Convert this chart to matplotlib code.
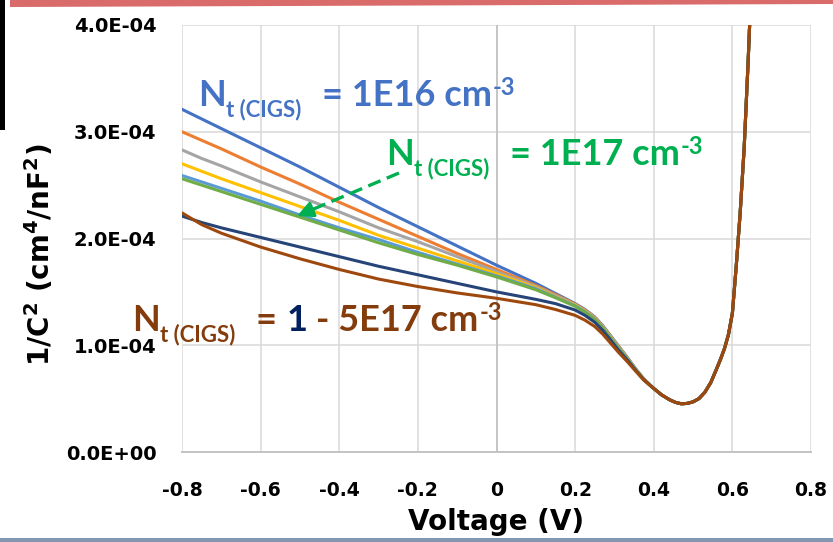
import matplotlib
matplotlib.use("Agg")
import matplotlib.pyplot as plt
import matplotlib.transforms as mtransforms
from matplotlib.patches import Polygon, Rectangle

plt.rcParams['font.family'] = ['DejaVu Sans']
LABEL_FONT = ['Lato', 'DejaVu Sans']

# ---- data: 1/C^2 (units of 1E-4 cm^4/nF^2) versus voltage (V) ----
# low-bias branch, one array per trap density
v_left = [-0.8, -0.75, -0.7, -0.6, -0.5, -0.4, -0.3, -0.2, -0.1, 0.0,
          0.1, 0.15, 0.2, 0.225, 0.25, 0.27, 0.29, 0.31, 0.333, 0.355, 0.375]
c_1e16 = [3.21, 3.12, 3.03, 2.85, 2.67, 2.48, 2.29, 2.11, 1.93, 1.75,
          1.58, 1.485, 1.39, 1.335, 1.265, 1.185, 1.09, 0.995, 0.885, 0.775, 0.685]
c_2e16 = [3.00, 2.92, 2.84, 2.67, 2.51, 2.34, 2.18, 2.02, 1.86, 1.71,
          1.56, 1.475, 1.385, 1.33, 1.26, 1.18, 1.085, 0.99, 0.88, 0.772, 0.683]
c_3e16 = [2.83, 2.75, 2.68, 2.53, 2.39, 2.25, 2.10, 1.97, 1.83, 1.69,
          1.55, 1.465, 1.38, 1.325, 1.255, 1.175, 1.08, 0.985, 0.877, 0.77, 0.681]
c_5e16 = [2.70, 2.63, 2.56, 2.43, 2.30, 2.17, 2.03, 1.91, 1.79, 1.67,
          1.54, 1.455, 1.375, 1.32, 1.25, 1.17, 1.075, 0.98, 0.874, 0.768, 0.679]
c_7e16 = [2.59, 2.53, 2.47, 2.35, 2.22, 2.10, 1.99, 1.87, 1.76, 1.65,
          1.53, 1.45, 1.37, 1.315, 1.245, 1.165, 1.07, 0.975, 0.871, 0.766, 0.678]
c_1e17 = [2.56, 2.50, 2.44, 2.32, 2.20, 2.08, 1.96, 1.85, 1.75, 1.64,
          1.52, 1.445, 1.365, 1.31, 1.24, 1.16, 1.065, 0.97, 0.868, 0.764, 0.677]
c_3e17 = [2.21, 2.15, 2.10, 2.01, 1.92, 1.83, 1.74, 1.66, 1.58, 1.50,
          1.43, 1.39, 1.33, 1.28, 1.215, 1.14, 1.05, 0.955, 0.86, 0.76, 0.675]
c_5e17 = [2.24, 2.13, 2.05, 1.92, 1.81, 1.71, 1.62, 1.55, 1.49, 1.44,
          1.38, 1.335, 1.28, 1.235, 1.175, 1.105, 1.02, 0.935, 0.845, 0.753, 0.672]

# forward-bias branch, shared by all trap densities
v_right = [0.40, 0.42, 0.44, 0.455, 0.47, 0.485, 0.50, 0.515, 0.53,
           0.545, 0.56, 0.57, 0.58, 0.59, 0.60, 0.61, 0.62, 0.63, 0.64,
           0.645, 0.65]
c_right = [0.595, 0.535, 0.49, 0.465, 0.452, 0.455, 0.47, 0.50, 0.56,
           0.65, 0.78, 0.87, 0.97, 1.10, 1.30, 1.75, 2.25, 2.85, 3.65,
           4.10, 4.60]

series_names = ["1E16", "2E16", "3E16", "5E16", "7E16", "1E17", "3E17", "5E17"]
series_left = [c_1e16, c_2e16, c_3e16, c_5e16, c_7e16, c_1e17, c_3e17, c_5e17]
series_colors = ["#4472C4", "#ED7D31", "#A5A5A5", "#FFC000",
                 "#5B9BD5", "#70AD47", "#264478", "#9E480E"]

x_ticks = [-0.8, -0.6, -0.4, -0.2, 0, 0.2, 0.4, 0.6, 0.8]
x_tick_labels = ["-0.8", "-0.6", "-0.4", "-0.2", "0", "0.2", "0.4", "0.6", "0.8"]
y_ticks = [0.0, 1.0e-4, 2.0e-4, 3.0e-4, 4.0e-4]
y_tick_labels = ["0.0E+00", "1.0E-04", "2.0E-04", "3.0E-04", "4.0E-04"]

W, H = 833, 542
fig = plt.figure(figsize=(W / 100, H / 100), dpi=100)
fig.patch.set_facecolor("white")
renderer = fig.canvas.get_renderer()

# pixel transform measured from the top-left corner of the figure
pix = mtransforms.Affine2D().scale(1 / W, -1 / H).translate(0, 1) + fig.transFigure

ax = fig.add_axes([182 / W, (H - 452) / H, (811 - 182) / W, (452 - 25) / H])
ax.set_xlim(-0.8, 0.8)
ax.set_ylim(0, 4.0e-4)

for name, vals, col in zip(series_names, series_left, series_colors):
    v = v_left + v_right
    c = [val * 1e-4 for val in vals + c_right]
    ax.plot(v, c, color=col, lw=2.2, solid_capstyle="round",
            solid_joinstyle="round", label=name, zorder=3)

ax.set_xticks(x_ticks)
ax.set_xticklabels(x_tick_labels)
ax.set_yticks(y_ticks)
ax.set_yticklabels(y_tick_labels)
ax.tick_params(axis="both", length=0, colors="black")
ax.tick_params(axis="y", pad=18.5, labelsize=14)
ax.tick_params(axis="x", pad=21, labelsize=13.5)
for lbl in ax.get_xticklabels() + ax.get_yticklabels():
    lbl.set_fontweight("bold")

ax.grid(True, color="#D9D9D9", lw=1.1, zorder=0)
ax.set_axisbelow(True)
for sp in ax.spines.values():
    sp.set_visible(False)
ax.axvline(0, color="#BFBFBF", lw=1.1, zorder=1)
ax.axhline(0, color="#BFBFBF", lw=1.3, zorder=1, clip_on=False)

ax.set_xlabel("Voltage (V)", fontsize=20, fontweight="bold", va="center")
ax.xaxis.set_label_coords(0.5, (452 - 522) / 427)
ax.set_ylabel(r"1/C$^{\mathregular{2}}$ (cm$^{\mathregular{4}}$/nF$^{\mathregular{2}}$)",
              fontsize=20, fontweight="bold", va="center")
ax.yaxis.set_label_coords((40 - 182) / 629, (452 - 255) / 427)


def piece(x, y, s, color, size):
    return fig.text(x, y, s, transform=pix, color=color, fontsize=size,
                    family=LABEL_FONT, fontweight="bold", ha="left", va="baseline")


def trap_label(x0, y0, parts, color):
    # N with the "t (CIGS)" subscript, the value and the cm^-3 exponent
    piece(x0, y0, "N", color, 26)
    piece(x0 + 28, y0 + 10, "t (CIGS)", color, 16)
    last = None
    for dx, s, col in parts:
        last = piece(x0 + dx, y0, s, col, 26)
    x_end = last.get_window_extent(renderer).x1
    piece(x_end + 1, y0 - 11, "-3", color, 17)


blue_txt, green_txt, brown_txt, navy_txt = "#4472C4", "#00B050", "#843C0C", "#002060"

trap_label(198, 106, [(124, "= 1E16 cm", blue_txt)], blue_txt)
trap_label(386, 165, [(124, "= 1E17 cm", green_txt)], green_txt)
trap_label(132, 331, [(124, "=", brown_txt), (155, "1", navy_txt),
                      (184, "- 5E17 cm", brown_txt)], brown_txt)

# dashed pointer to the 1E17 curve
tail, tip = (399, 173), (297, 216)
mid = (tip[0] + (tail[0] - tip[0]) * 0.15, tip[1] + (tail[1] - tip[1]) * 0.15)
fig.add_artist(plt.Line2D([tail[0], mid[0]], [tail[1], mid[1]], transform=pix,
                          color="#00B050", lw=2.4, dashes=(4, 2)))
ax.annotate("", xy=tip, xycoords=pix, xytext=mid, textcoords=pix,
            arrowprops=dict(arrowstyle="-|>", color="#00B050", lw=2.2,
                            mutation_scale=24, shrinkA=0, shrinkB=0),
            annotation_clip=False)

# page decorations around the chart
fig.add_artist(Polygon([(10, 0), (W, 0), (W, 4), (10, 7)], closed=True,
                       transform=pix, facecolor="#DA6B6B", edgecolor="none"))
fig.add_artist(Rectangle((0, 0), 5, 130, transform=pix, facecolor="black",
                         edgecolor="none"))
fig.add_artist(Rectangle((0, 538), W, 4, transform=pix, facecolor="#8497B0",
                         edgecolor="none"))

fig.savefig("out.png", dpi=100)
